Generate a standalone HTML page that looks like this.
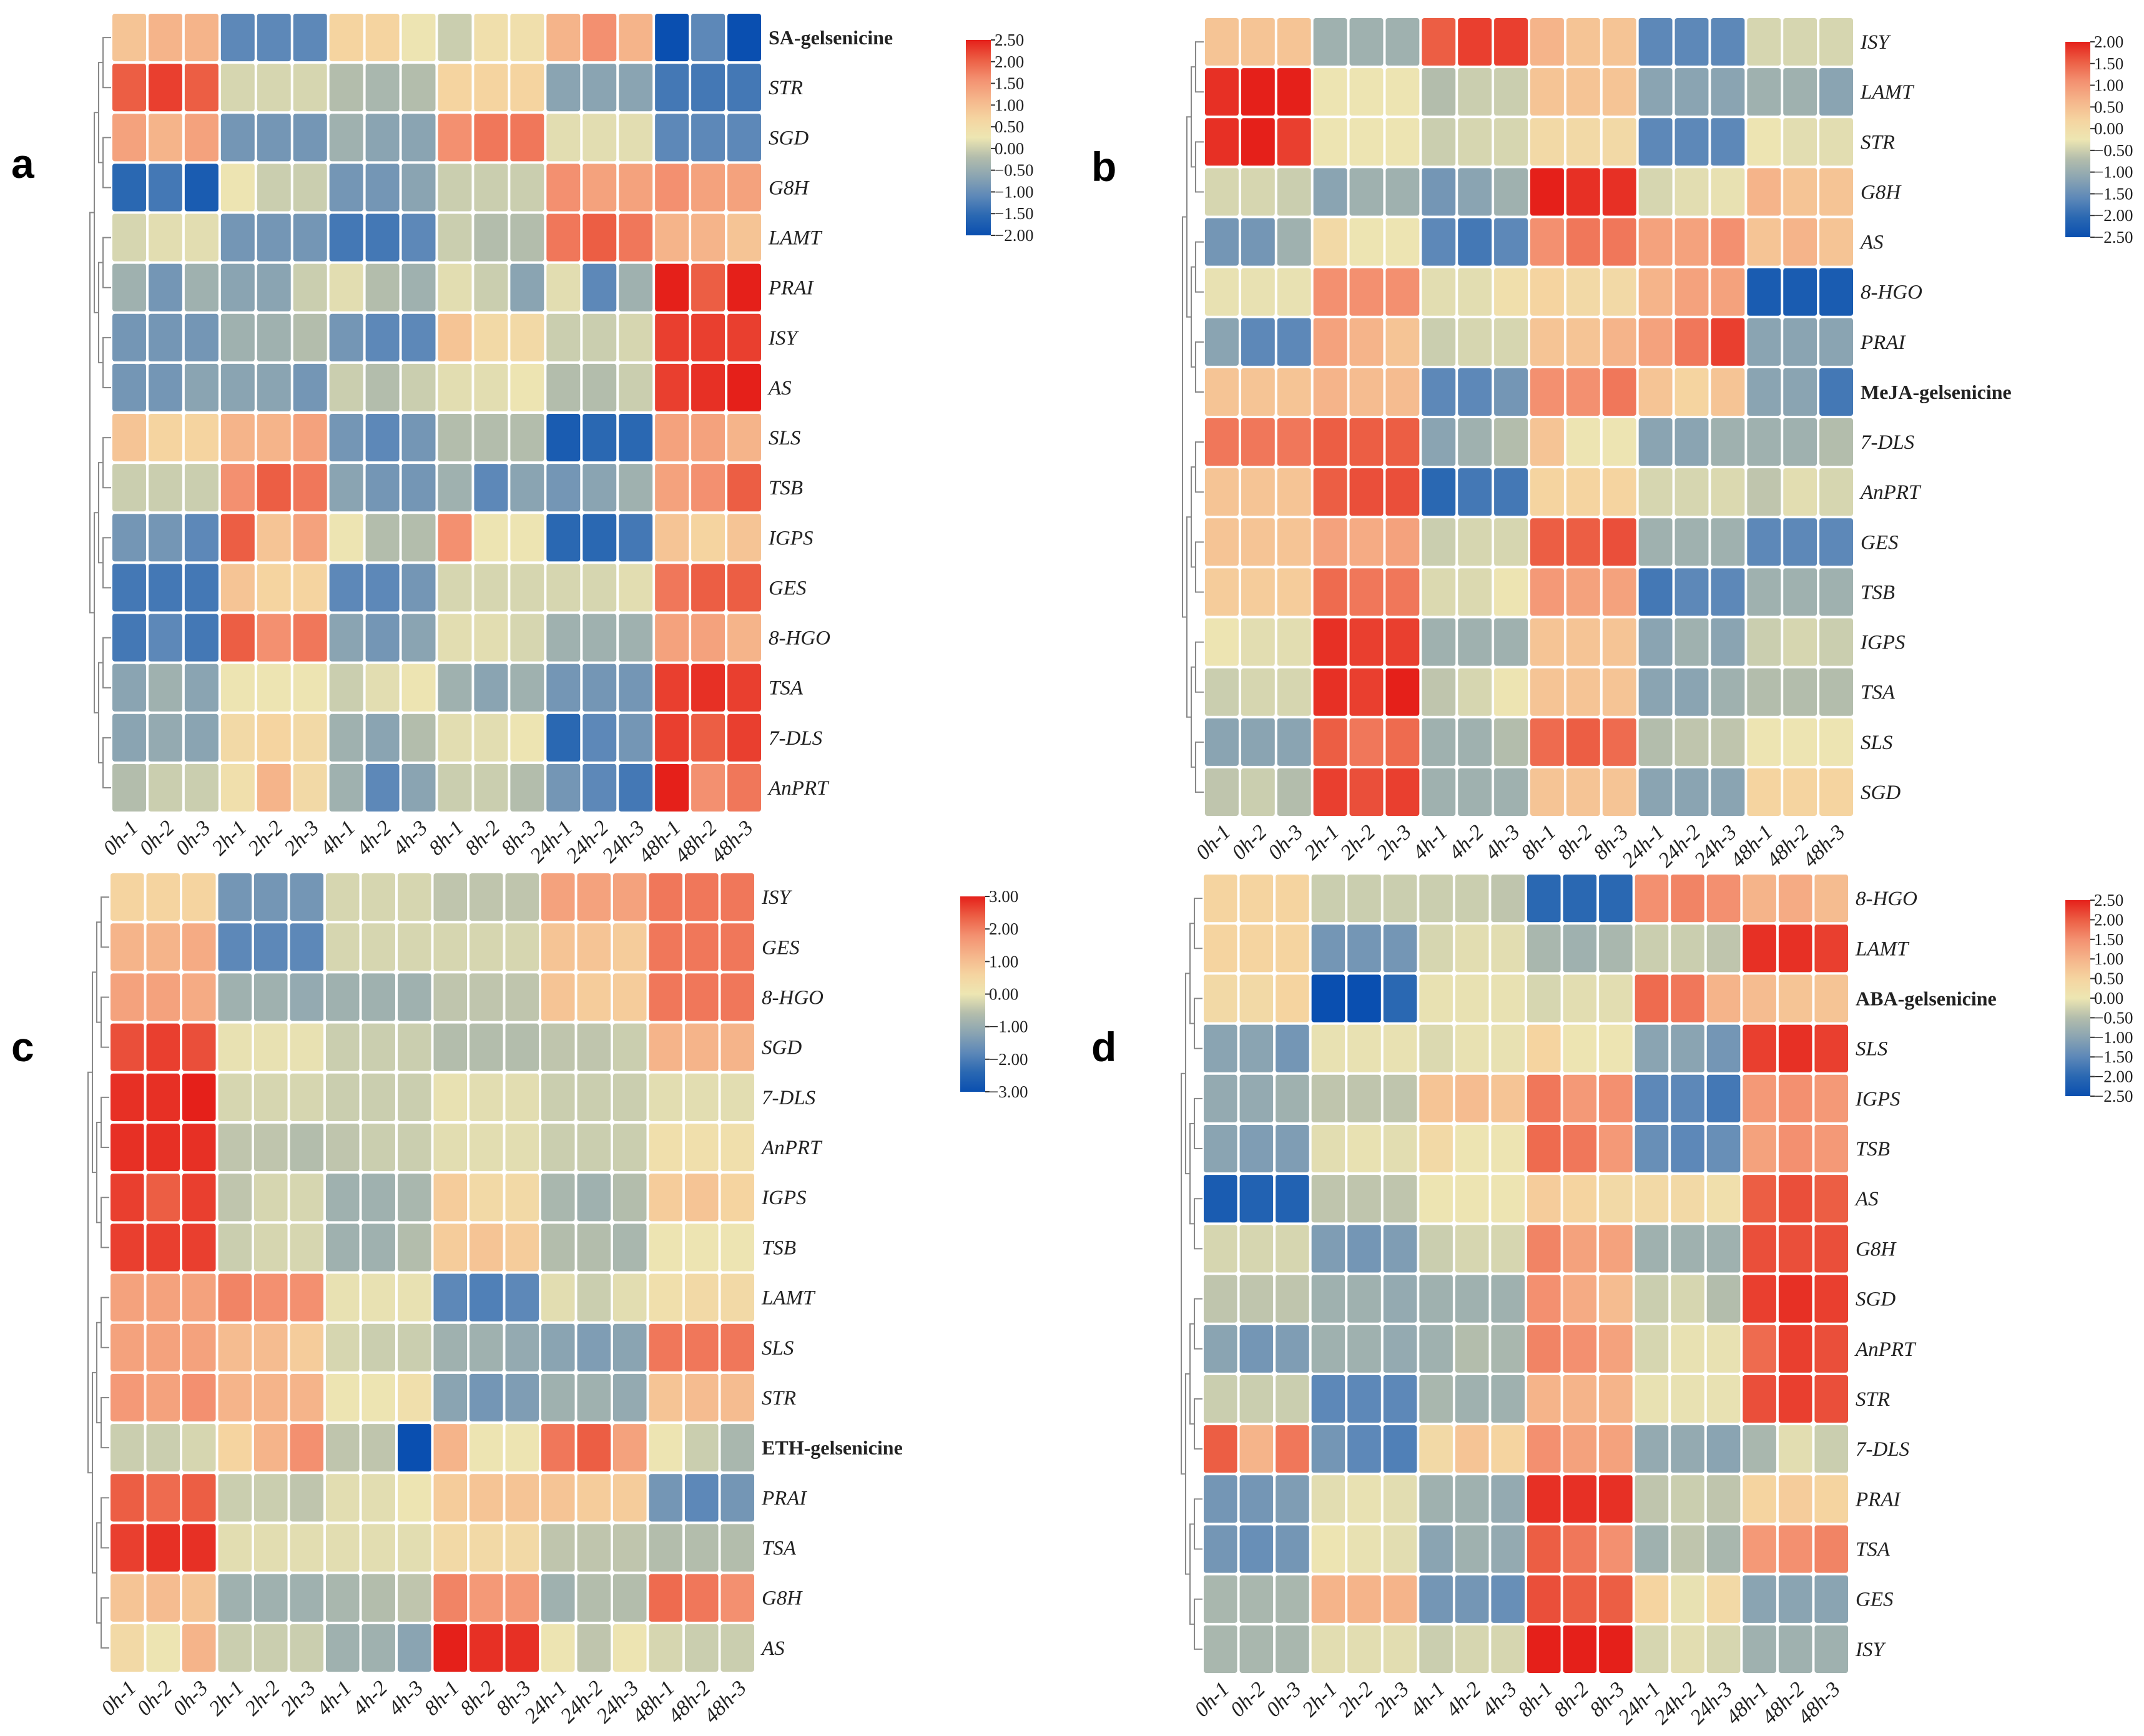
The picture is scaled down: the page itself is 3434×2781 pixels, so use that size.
<!DOCTYPE html>
<html><head><meta charset="utf-8"><style>
html,body{margin:0;padding:0;background:#fff;}
svg{display:block;}
</style></head><body>
<svg id="fig" width="3434" height="2781" viewBox="0 0 3434 2781" xmlns="http://www.w3.org/2000/svg">
<defs>
<linearGradient id="cbar" x1="0" y1="1" x2="0" y2="0">
<stop offset="0" stop-color="#0a4fb0"/><stop offset="0.1" stop-color="#2a68b2"/><stop offset="0.2" stop-color="#5d88b8"/><stop offset="0.3" stop-color="#8aa4b2"/><stop offset="0.4" stop-color="#b3bdac"/><stop offset="0.5" stop-color="#ede6b2"/><stop offset="0.6" stop-color="#f5d4a0"/><stop offset="0.7" stop-color="#f5b48a"/><stop offset="0.8" stop-color="#f39070"/><stop offset="0.9" stop-color="#ec5e44"/><stop offset="1" stop-color="#e5201a"/>
</linearGradient>
</defs>
</svg>
<script>
// column categories
const columns = ["0h-1","0h-2","0h-3","2h-1","2h-2","2h-3","4h-1","4h-2","4h-3","8h-1","8h-2","8h-3","24h-1","24h-2","24h-3","48h-1","48h-2","48h-3"];
// row labels per panel
const rowsA = ["SA-gelsenicine","STR","SGD","G8H","LAMT","PRAI","ISY","AS","SLS","TSB","IGPS","GES","8-HGO","TSA","7-DLS","AnPRT"];
const rowsB = ["ISY","LAMT","STR","G8H","AS","8-HGO","PRAI","MeJA-gelsenicine","7-DLS","AnPRT","GES","TSB","IGPS","TSA","SLS","SGD"];
const rowsC = ["ISY","GES","8-HGO","SGD","7-DLS","AnPRT","IGPS","TSB","LAMT","SLS","STR","ETH-gelsenicine","PRAI","TSA","G8H","AS"];
const rowsD = ["8-HGO","LAMT","ABA-gelsenicine","SLS","IGPS","TSB","AS","G8H","SGD","AnPRT","STR","7-DLS","PRAI","TSA","GES","ISY"];
// colorbar tick labels
const ticksA = ["2.50","2.00","1.50","1.00","0.50","0.00","\u22120.50","\u22121.00","\u22121.50","\u22122.00"];
const ticksB = ["2.00","1.50","1.00","0.50","0.00","\u22120.50","\u22121.00","\u22121.50","\u22122.00","\u22122.50"];
const ticksC = ["3.00","2.00","1.00","0.00","\u22121.00","\u22122.00","\u22123.00"];
const ticksD = ["2.50","2.00","1.50","1.00","0.50","0.00","\u22120.50","\u22121.00","\u22121.50","\u22122.00","\u22122.50"];
// values (relative scale: -10 = min colour, +10 = max colour)
const valuesA = [
[3,4,4,-6,-6,-6,2,2,0.5,-1,1,1,4,6,4,-10,-6,-10],
[8,9,8,-0.5,-0.5,-0.5,-2,-2.5,-2,2,2,2,-4,-4,-4,-7,-7,-7],
[5,4,5,-5,-5,-5,-3,-4,-4,6,7,7,0,0,0,-6,-6,-6],
[-8,-7,-9,0.5,-1,-1,-5,-5,-4,-1,-1,-1,6,5,5,6,5,5],
[-0.5,0,0,-5,-5,-5,-7,-7,-6,-1,-2,-2,7,8,7,4,4,3],
[-3,-5,-3,-4,-4,-1,0,-2,-3,0,-1,-4,0,-6,-3,10,8,10],
[-5,-5,-5,-3,-3,-2,-5,-6,-6,3,1.5,1.5,-1,-1,-0.5,9,9,9],
[-5,-5,-4,-4,-4,-5,-1,-2,-1,0,0,0.5,-2,-2,-1,9,9.5,10],
[3,2,2,4,4,5,-5,-6,-5,-2,-2,-2,-9,-8,-8,5,5,4],
[-1,-1,-1,6,8,7,-4,-5,-5,-3,-6,-4,-5,-4,-3,5,6,8],
[-5,-5,-6,8,3,5,0.5,-2,-2,6,0.5,0.5,-8,-8,-7,3,2,3],
[-7,-7,-7,3,2,2,-6,-6,-5,-0.5,-0.5,-0.5,-0.5,-0.5,0,7,8,8],
[-7,-6,-7,8,6,7,-4,-5,-4,0,0,-0.5,-3,-3,-3,5,5,4],
[-4,-3,-4,0.5,0.5,0.5,-1,0,0.5,-3,-4,-3,-5,-5,-5,9,9.5,9],
[-4,-3.5,-4,1.5,2,1.5,-3,-4,-2,0,0,0.5,-8,-6,-5,9,8,9],
[-2,-1,-1,1,4,1.5,-3,-6,-4,-1,-1,-2,-5,-6,-7,10,6,7]];
const valuesB = [
[3,3,3,-3,-3,-3,8,9,9,4,3,3,-6,-6,-6,-0.5,-0.5,-0.5],
[9.5,10,10,0.5,0.5,0.5,-2,-1,-1,3,3,3,-4,-4,-4,-3,-3,-4],
[9.5,10,9,0.5,0.5,0.5,-1,-0.5,-0.5,1.5,1.5,1.5,-6,-6,-6,0.5,0,0],
[-0.5,-0.5,-1,-4,-3,-3,-5,-4,-3,10,9.5,9.5,-0.5,0,0.3,4,3,3],
[-5,-5,-3,1.5,0.5,0.5,-6,-7,-6,6,7,7,5,5,6,3,4,3],
[0.3,0.3,0.3,6,6,6,0,0,1,2,1.5,1.5,4,5,5,-9,-9,-9],
[-4,-6,-6,5,4,3,-1,-0.5,-0.5,3,3,4,5,7,9,-4,-4,-4],
[3,3,3,4,3.5,3.5,-6,-6,-5,6,6,7,3,2,3,-4,-4,-7],
[7,7,7,8,8,8,-4,-3,-2,3,0.5,0.5,-4,-4,-3,-3,-3,-2],
[3,3,3,8,8.5,8.5,-8,-7,-7,2,2,2,-0.5,-0.5,-0.3,-1.5,0,-0.5],
[3,3,3,5,4.5,5,-1,-0.5,-0.5,8,8,8.5,-3,-3,-3,-6,-6,-6],
[2.5,2.5,2.5,7.5,7,7,-0.3,-0.3,0.5,5.5,5,5,-7,-6,-6,-3,-3,-3],
[0.5,0,0,9.5,9,9,-3,-3,-3,3,3,3,-4,-3,-4,-1,-0.5,-1],
[-1,-0.5,-0.5,9.5,9,10,-1.5,-0.5,0.5,3,3,3,-4,-4,-3,-2,-2,-2],
[-4,-4,-4,8,7,7.5,-3,-3,-2,7.5,8,7.5,-2,-1.5,-1.5,0.5,0.5,0.5],
[-1.5,-1,-2,9,8.5,9,-3,-3,-3,3,3,3,-4,-4,-4,2,2,2]];
const valuesC = [
[2,2,2,-5,-5,-5,-0.5,-0.5,-0.5,-1.5,-1.5,-1.5,5,5,5,7,7,7],
[4,4,4.5,-6,-6,-6,-0.5,-0.5,-0.5,-0.5,-0.5,-0.5,3,3,2.5,7,7,7],
[5,5,4.5,-3,-3,-3.5,-3,-3,-3,-1.5,-1.5,-1.5,3,2.5,2.5,7,7,7],
[8.5,9,8.5,0.3,0.3,0.3,-1,-1,-1,-2,-2,-2,-1.5,-1.5,-1,4,4,4],
[9.5,9.5,10,-0.5,-0.5,-0.5,-1,-1,-1,0.3,0,0,-1,-1,-1,0,0,0],
[9.5,9.5,9.5,-1.5,-1.5,-2,-1.5,-1,-1,0,0,0,-1,-1,-1,1,1,1],
[9,8,9,-1.5,-0.5,-0.5,-3,-3,-2.5,2.5,1.5,1.5,-2.5,-3,-2,2.5,3,2],
[9,9,9,-1,-0.5,-0.5,-3,-3,-2,2.5,3,2.5,-2,-2,-2.5,0.5,0.5,0.5],
[5,5,5,6.5,6,6,0.3,0.3,0.3,-6,-6.5,-6,0,-1,0,1,1.5,1.5],
[5,5,5,3.5,3.5,2.5,-0.5,-1,-1,-3,-3,-3.5,-4,-4.5,-4,7,7,7],
[5.5,5,6,4,4,4,0.5,0.5,1,-4,-5,-4.5,-3,-3,-3.5,3,3.5,3.5],
[-1,-1,-0.5,2,4,6,-1.5,-1.5,-10,4,0.5,0.5,7,8,5,0.5,-1,-2.5],
[8,7.5,8,-1,-1,-1.5,0,0,0.5,2.5,3,3,3,2.5,2.5,-5,-6,-5],
[9,9.5,9.5,0,0,0,0,0,0,1.5,1.5,1.5,-1.5,-1.5,-1.5,-2,-2,-2],
[3,3.5,3,-3,-3,-3,-2.5,-2,-1.5,6.5,5.5,5.5,-3,-2,-2,7.5,7,6],
[1.5,0.5,4,-1,-1,-1,-3,-3,-4,10,9.5,9.5,0.5,-1.5,0.5,-0.5,-1,-1]];
const valuesD = [
[2,2,2,-1,-1,-1,-1,-1,-1.5,-8,-8,-8,6,6.5,6,4,4.5,3.5],
[2,2,2,-5,-5,-5,-0.5,0,0,-2.5,-3,-2.5,-1,-1,-1.5,9.5,9.5,9],
[1.5,1.5,2,-10,-10,-8,0.3,0.3,0.3,-0.5,0,0,7.5,7,4,3.5,3,3],
[-4,-4,-5,0.3,0.3,0.3,-0.3,0.3,0.3,2,0.5,0.5,-4,-4,-5,9,9.5,9],
[-3.5,-3.5,-3,-1.5,-1.5,-1.5,3,3.5,3,7,5.5,6,-6,-6,-7,5.5,6,5.5],
[-4,-4.5,-4.5,0,0.3,0,1.5,0.5,0.5,7.5,7,5.5,-5.5,-6,-5.5,5,6,5.5],
[-9,-8.5,-8.5,-1.5,-1.5,-1.5,0.5,0.5,0.5,2.5,2,1.5,1.5,1.5,1,8,8.5,8],
[-0.5,-0.5,-0.5,-4.5,-5,-4.5,-1,-0.5,-0.5,6.5,5,5,-3,-3,-3,8.5,8.5,8.5],
[-1.5,-1.5,-1.5,-3,-3,-3.5,-3,-3,-3,6,4.5,3.5,-1,-0.5,-2,9,9.5,9],
[-4,-5,-4.5,-3,-3,-3.5,-3,-2,-2.5,6.5,6,5,-0.5,0.3,0.3,7.5,9,8.5],
[-1,-1,-1,-6,-6,-6,-2.5,-3,-3,4,4,4,0.3,0.3,0.3,8.5,9,8.5],
[8,4,7,-5,-6,-6.5,1.5,3,2,6,5,5,-3.5,-3.5,-4,-2.5,0,-1],
[-5,-5,-4.5,0,0.3,0,-3,-3,-3.5,9.5,9.5,9.5,-1.5,-1,-1.5,2,2.5,2],
[-5,-5.5,-5,0.5,0.3,0,-4,-3,-3.5,8,7,6,-3,-1.5,-2.5,5.5,6,6.5],
[-2.5,-2.5,-2.5,4,4,4,-5,-5,-5.5,8.5,8,8,2,0.3,1.5,-4,-4,-4],
[-2.5,-2.5,-2.5,0,0,0,-1,-0.5,-0.5,10,10,10,-0.5,0,-0.5,-3,-3,-3]];

const NS="http://www.w3.org/2000/svg";
const svg=document.getElementById('fig');
const stops=[[-10,[10,79,176]],[-8,[42,104,178]],[-6,[93,136,184]],[-4,[138,164,178]],[-2,[179,189,172]],[-0.5,[214,214,176]],[0.5,[237,228,178]],[2,[245,212,160]],[4,[245,180,138]],[6,[243,144,112]],[8,[236,94,68]],[10,[229,32,26]]];
function color(v){
  v=Math.max(-10,Math.min(10,v));
  for(let i=0;i<stops.length-1;i++){
    const a=stops[i],b=stops[i+1];
    if(v<=b[0]){const t=(v-a[0])/(b[0]-a[0]);
      const c=a[1].map((x,k)=>Math.round(x+(b[1][k]-x)*t));
      return `rgb(${c[0]},${c[1]},${c[2]})`;}
  }
  return 'rgb(229,32,26)';
}
function el(tag,attrs,parent){const e=document.createElementNS(NS,tag);for(const k in attrs)e.setAttribute(k,attrs[k]);(parent||svg).appendChild(e);return e;}

const panels=[
 {id:'a',rows:rowsA,vals:valuesA,ticks:ticksA,x0:178,x1:1221,y0:20,y1:1302,cbx:1547,cby0:64,cby1:377,lx:18,ly:285},
 {id:'b',rows:rowsB,vals:valuesB,ticks:ticksB,x0:1928,x1:2970,y0:27,y1:1309,cbx:3308,cby0:67,cby1:380,lx:1748,ly:290},
 {id:'c',rows:rowsC,vals:valuesC,ticks:ticksC,x0:175,x1:1210,y0:1397,y1:2680,cbx:1538,cby0:1436,cby1:1749,lx:18,ly:1700},
 {id:'d',rows:rowsD,vals:valuesD,ticks:ticksD,x0:1926,x1:2962,y0:1399,y1:2682,cbx:3308,cby0:1442,cby1:1756,lx:1748,ly:1700}
];
panels.forEach(p=>{
  const g=el('g',{});
  
  
  const nr=p.rows.length,nc=columns.length;
  const cw=(p.x1-p.x0)/nc,ch=(p.y1-p.y0)/nr;
  const xPos=j=>p.x0+j*cw, yPos=i=>p.y0+i*ch;
  const L=el('text',{x:p.lx,y:p.ly,'font-family':'Liberation Sans, sans-serif','font-weight':'bold','font-size':66,fill:'#000'},g);
  L.textContent=p.id;
  
  
  p.vals.forEach((row,i)=>row.forEach((v,j)=>{
    const r=el('rect',{x:xPos(j)+2,y:yPos(i)+2,width:cw-4,height:ch-4,rx:4,fill:color(v)},g);
    
    
  }));
  p.rows.forEach((name,i)=>{
    const treat=name.indexOf('gelsenicine')>=0;
    const t=el('text',{x:p.x1+10,y:yPos(i)+ch/2+11,'font-family':'Liberation Serif, serif','font-size':treat?32:33,'font-style':treat?'normal':'italic','font-weight':treat?'bold':'normal',fill:'#222'},g);
    t.textContent=name;
    
    
  });
  columns.forEach((c,j)=>{
    const cx=xPos(j)+cw/2+16, cy=p.y1+26;
    const t=el('text',{x:cx,y:cy,'font-family':'Liberation Serif, serif','font-size':34,'font-style':'italic','text-anchor':'end',fill:'#222',transform:`rotate(-45 ${cx} ${cy})`},g);
    t.textContent=c;
    
    
  });
  const dg=el('g',{stroke:'#888','stroke-width':2,fill:'none'},g);
  
  
  let nodes=p.rows.map((_,i)=>({y:yPos(i)+ch/2,x:p.x0}));
  let level=0;
  while(nodes.length>1){
    level++;
    const nx=[];
    for(let k=0;k<nodes.length;k+=2){
      if(k+1>=nodes.length){nx.push(nodes[k]);continue;}
      const a=nodes[k],b=nodes[k+1],x=p.x0-6-level*7;
      el('path',{d:`M${a.x} ${a.y}H${x}V${b.y}H${b.x}`},dg);
      nx.push({x:x,y:(a.y+b.y)/2});
    }
    nodes=nx;
  }
  const cb=el('rect',{x:p.cbx,y:p.cby0,width:40,height:p.cby1-p.cby0,fill:'url(#cbar)'},g);
  
  
  const nt=p.ticks.length;
  p.ticks.forEach((tk,k)=>{
    const ty=p.cby0+k*(p.cby1-p.cby0)/(nt-1);
    el('line',{x1:p.cbx+40,y1:ty,x2:p.cbx+47,y2:ty,stroke:'#333','stroke-width':2},g);
    const t=el('text',{x:p.cbx+46,y:ty+9,'font-family':'Liberation Serif, serif','font-size':27,fill:'#222'},g);
    t.textContent=tk;
    
    
  });
});
</script>
</body></html>
